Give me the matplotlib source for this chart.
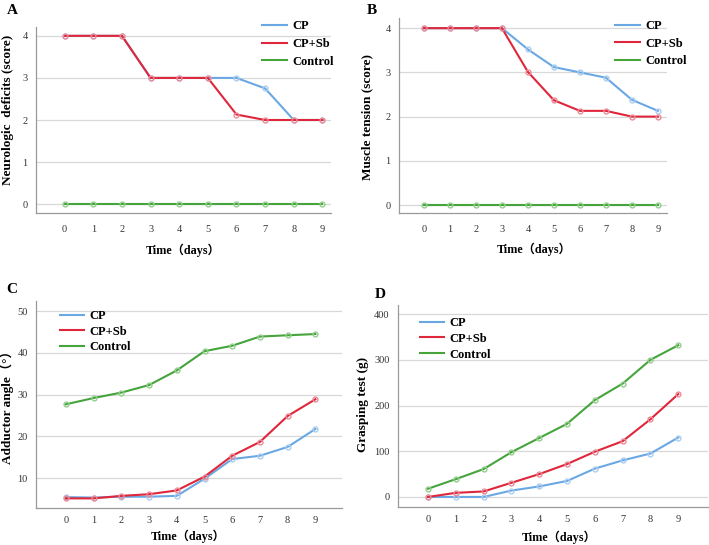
import matplotlib
matplotlib.use("Agg")
import matplotlib.pyplot as plt

# ---------------------------------
# Data
# ---------------------------------

days = [0, 1, 2, 3, 4, 5, 6, 7, 8, 9]
series_names = ["CP", "CP+Sb", "Control"]

neuro_cp = [4, 4, 4, 3, 3, 3, 3, 2.75, 2, 2]
neuro_sb = [4, 4, 4, 3, 3, 3, 2.13, 2, 2, 2]
neuro_ctrl = [0, 0, 0, 0, 0, 0, 0, 0, 0, 0]

tension_cp = [4, 4, 4, 4, 3.52, 3.12, 3.0, 2.88, 2.38, 2.13]
tension_sb = [4, 4, 4, 4, 3.01, 2.37, 2.13, 2.13, 2.0, 2.0]
tension_ctrl = [0, 0, 0, 0, 0, 0, 0, 0, 0, 0]

angle_cp = [5.5, 5.4, 5.6, 5.6, 5.8, 9.9, 14.6, 15.4, 17.5, 21.8]
angle_sb = [5.2, 5.2, 5.8, 6.2, 7.1, 10.4, 15.4, 18.7, 24.9, 28.9]
angle_ctrl = [27.7, 29.2, 30.5, 32.3, 35.8, 40.4, 41.7, 43.9, 44.2, 44.5]

grasp_cp = [0, 0, 0, 14, 23, 35, 62, 80, 95, 130]
grasp_sb = [0, 9, 12, 31, 50, 72, 99, 122, 170, 225]
grasp_ctrl = [18, 39, 61, 98, 129, 160, 212, 248, 300, 332]

# ---------------------------------
# Style
# ---------------------------------

plt.rcParams["font.family"] = ["Liberation Serif", "Noto Sans CJK SC"]

colors = ["#6aa8e4", "#e0263a", "#46a43c"]
marker_colors = ["#a9cdf0", "#ec8a98", "#93cf8c"]
grid_color = "#d8d8d8"
spine_color = "#9a9a9a"

W, H = 709, 545


def add_axes_px(fig, left, top, right, bottom):
    return fig.add_axes([left / W, 1 - bottom / H, (right - left) / W, (bottom - top) / H])


def draw_panel(ax, data, ylabel, yticks, xlim, ylim, letter, letter_pos,
               legend_anchor, handlelength, labelspacing, x_pad,
               xlabel_pos, ylabel_pos):
    for vals, c, mc, name in zip(data, colors, marker_colors, series_names):
        ax.plot(days, vals, color=c, lw=1.5, marker="o", ms=3.5,
                mfc="none", mec=mc, mew=1.0, label=name, zorder=3)
    ax.set_xlim(*xlim)
    ax.set_ylim(*ylim)
    ax.set_xticks(days)
    ax.set_yticks(yticks)
    ax.tick_params(length=0, labelsize=7.5, colors="#333333")
    ax.tick_params(axis="x", pad=x_pad)
    ax.tick_params(axis="y", pad=6)
    ax.yaxis.grid(True, color=grid_color, lw=0.9)
    ax.set_axisbelow(True)
    for s in ["top", "right"]:
        ax.spines[s].set_visible(False)
    for s in ["left", "bottom"]:
        ax.spines[s].set_color(spine_color)
        ax.spines[s].set_linewidth(0.9)
    ax.set_xlabel("Time（days）", fontsize=8.7, fontweight="bold")
    ax.set_ylabel(ylabel, fontsize=9.5, fontweight="bold")
    ax.xaxis.set_label_coords(*xlabel_pos)
    ax.yaxis.set_label_coords(*ylabel_pos)
    leg = ax.legend(loc="upper left", bbox_to_anchor=legend_anchor, frameon=False,
                    prop={"size": 9, "weight": "bold"},
                    handlelength=handlelength, handletextpad=0.45,
                    labelspacing=labelspacing, borderaxespad=0, borderpad=0)
    for line in leg.get_lines():
        line.set_marker("")
        line.set_linewidth(1.5)
    ax.text(letter_pos[0], letter_pos[1], letter, transform=ax.transAxes,
            fontsize=11, fontweight="bold", ha="left", va="top")


fig = plt.figure(figsize=(W / 100, H / 100), dpi=100)

# A
axA = add_axes_px(fig, 36, 27, 331, 213)
draw_panel(axA, [neuro_cp, neuro_sb, neuro_ctrl], "Neurologic  deficits (score)",
           [0, 1, 2, 3, 4], (-1.0, 9.3), (-0.21, 4.21), "A", (-0.098, 1.125),
           (0.766, 1.035), 2.0, 0.45, 9, (0.498, -0.165), (-0.075, 0.555))

# B
axB = add_axes_px(fig, 399, 18, 667, 213)
draw_panel(axB, [tension_cp, tension_sb, tension_ctrl], "Muscle tension (score)",
           [0, 1, 2, 3, 4], (-0.96, 9.35), (-0.18, 4.23), "B", (-0.12, 1.07),
           (0.806, 0.99), 2.0, 0.45, 9, (0.504, -0.152), (-0.095, 0.49))

# C
axC = add_axes_px(fig, 36, 301, 342, 508)
draw_panel(axC, [angle_cp, angle_sb, angle_ctrl], "Adductor angle（°）",
           [10, 20, 30, 40, 50], (-1.08, 9.96), (2.9, 52.4), "C", (-0.098, 1.085),
           (0.078, 0.955), 1.9, 0.28, 6, (0.497, -0.105), (-0.072, 0.50))

# D
axD = add_axes_px(fig, 398, 305, 708, 507)
draw_panel(axD, [grasp_cp, grasp_sb, grasp_ctrl], "Grasping test (g)",
           [0, 100, 200, 300, 400], (-1.08, 10.07), (-22, 420), "D", (-0.075, 1.085),
           (0.071, 0.94), 1.9, 0.3, 6, (0.52, -0.118), (-0.095, 0.51))

fig.savefig("out.png", dpi=100)
